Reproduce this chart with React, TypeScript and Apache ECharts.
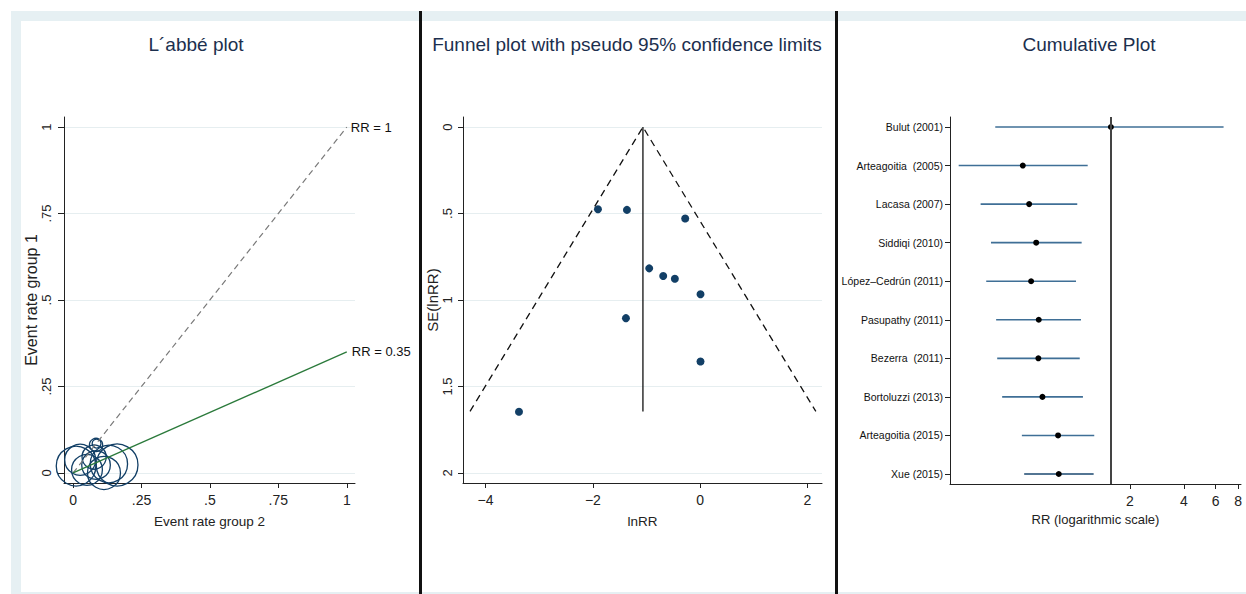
import React, { useEffect, useRef } from "react";
import * as echarts from "echarts";

// ---------- L'Abbé plot data ----------
const labbeRateGroup2 = [0.011, 0.026, 0.161, 0.131, 0.113, 0.084, 0.086, 0.077, 0.051, 0.084];
const labbeRateGroup1 = [0.02, 0.038, 0.023, 0.026, 0.0, 0.081, 0.085, 0.046, 0.009, 0.023];
const labbeWeights = [36, 22, 40, 32, 25, 4, 1.8, 13.4, 21.8, 18.8];
const labbeTicks = [0, 0.25, 0.5, 0.75, 1];
const rrReference = 1;
const rrPooled = 0.35;

// ---------- Funnel plot data ----------
const funnelLnRR = [-1.905, -1.365, -0.279, -0.95, -0.689, -0.472, 0.006, -1.384, 0.006, -3.377];
const funnelSE = [0.475, 0.479, 0.529, 0.817, 0.861, 0.877, 0.967, 1.105, 1.356, 1.646];
const funnelPooled = -1.067;
const funnelMaxSE = 1.644;
const funnelXTicks = [-4, -2, 0, 2];
const funnelYTicks = [0, 0.5, 1, 1.5, 2];

// ---------- Cumulative plot data ----------
const studies = [
  "Bulut (2001)",
  "Arteagoitia  (2005)",
  "Lacasa (2007)",
  "Siddiqi (2010)",
  "López–Cedrún (2011)",
  "Pasupathy (2011)",
  "Bezerra  (2011)",
  "Bortoluzzi (2013)",
  "Arteagoitia (2015)",
  "Xue (2015)",
];
const cumRR = [1.569, 0.508, 0.551, 0.603, 0.565, 0.623, 0.62, 0.653, 0.798, 0.805];
const cumLow = [0.357, 0.2235, 0.296, 0.338, 0.318, 0.361, 0.366, 0.39, 0.502, 0.517];
const cumHigh = [6.64, 1.166, 1.02, 1.079, 1.004, 1.07, 1.053, 1.097, 1.268, 1.258];
const cumRefLine = 1.569;
const cumXTicks = [2, 4, 6, 8];

const REG = "'Liberation Sans', Arial, sans-serif";
const TITLE_COLOR = "#1c2f4e";
const AXIS_COLOR = "#222222";
const GRID_COLOR = "#e6eef0";
const MARK_BLUE = "#123f66";

const fmtDec = (v: number) => {
  const s = String(v);
  return s.startsWith("0.") ? s.slice(1) : s;
};

function baseAxis(extra: any) {
  return {
    axisLine: { show: true, onZero: false, lineStyle: { color: AXIS_COLOR, width: 1 } },
    axisTick: { show: true, length: 5, lineStyle: { color: AXIS_COLOR } },
    splitLine: { show: false },
    ...extra,
  };
}

export default function App() {
  const ref = useRef<HTMLDivElement>(null);
  useEffect(() => {
    if (!ref.current) return;
    const chart = echarts.init(ref.current, undefined, { renderer: "svg" });

    const bubbleData = labbeRateGroup2.map((x, i) => [x, labbeRateGroup1[i], labbeWeights[i]]);
    const funnelData = funnelLnRR.map((x, i) => [x, funnelSE[i]]);
    const ciData = studies.map((_, i) => [cumLow[i], cumHigh[i], i]);
    const cumData = cumRR.map((v, i) => [v, i]);
    const z = 1.96;

    const option: any = {
      animation: false,
      backgroundColor: "#ffffff",
      textStyle: { fontFamily: REG },
      graphic: [
        { type: "rect", shape: { x: 11, y: 11, width: 1235, height: 10 }, style: { fill: "#e6f0f3" }, silent: true },
        { type: "rect", shape: { x: 11, y: 11, width: 10, height: 583 }, style: { fill: "#e6f0f3" }, silent: true },
        { type: "rect", shape: { x: 11, y: 592, width: 1235, height: 2 }, style: { fill: "#e6f0f3" }, silent: true },
        { type: "rect", shape: { x: 419, y: 11, width: 3, height: 583 }, style: { fill: "#111111" }, silent: true },
        { type: "rect", shape: { x: 835, y: 11, width: 3, height: 583 }, style: { fill: "#111111" }, silent: true },
        {
          type: "text", x: 196, y: 44,
          style: { text: "L´abbé plot", fill: TITLE_COLOR, font: `19px ${REG}`, align: "center", verticalAlign: "middle" },
        },
        {
          type: "text", x: 627, y: 44,
          style: { text: "Funnel plot with pseudo 95% confidence limits", fill: TITLE_COLOR, font: `19px ${REG}`, align: "center", verticalAlign: "middle" },
        },
        {
          type: "text", x: 1089, y: 44,
          style: { text: "Cumulative Plot", fill: TITLE_COLOR, font: `19px ${REG}`, align: "center", verticalAlign: "middle" },
        },
      ],
      grid: [
        { left: 64, top: 117, width: 291, height: 366 },
        { left: 463, top: 117, width: 359, height: 366 },
        { left: 950, top: 117, width: 291, height: 367 },
      ],
      xAxis: [
        baseAxis({
          type: "value", gridIndex: 0, min: -0.033, max: 1.03,
          name: "Event rate group 2", nameLocation: "middle", nameGap: 31,
          nameTextStyle: { fontFamily: REG, fontSize: 13.5, color: AXIS_COLOR },
          axisTick: { show: true, length: 5, lineStyle: { color: AXIS_COLOR }, customValues: labbeTicks },
          axisLabel: { customValues: labbeTicks, formatter: fmtDec, fontFamily: REG, fontSize: 14, color: AXIS_COLOR, margin: 10 },
        }),
        baseAxis({
          type: "value", gridIndex: 1, min: -4.42, max: 2.27,
          name: "lnRR", nameLocation: "middle", nameGap: 31,
          nameTextStyle: { fontFamily: REG, fontSize: 13.5, color: AXIS_COLOR },
          axisTick: { show: true, length: 5, lineStyle: { color: AXIS_COLOR }, customValues: funnelXTicks },
          axisLabel: { customValues: funnelXTicks, formatter: (v: number) => String(v).replace("-", "−"), fontFamily: REG, fontSize: 14, color: AXIS_COLOR, margin: 10 },
        }),
        baseAxis({
          type: "log", logBase: 2, gridIndex: 2, min: 0.2, max: 8.3,
          name: "RR (logarithmic scale)", nameLocation: "middle", nameGap: 29,
          nameTextStyle: { fontFamily: REG, fontSize: 13, color: AXIS_COLOR },
          axisTick: { show: true, length: 5, lineStyle: { color: AXIS_COLOR }, customValues: cumXTicks },
          axisLabel: { customValues: cumXTicks, formatter: (v: number) => String(Math.round(v)), fontFamily: REG, fontSize: 14, color: AXIS_COLOR, margin: 10 },
        }),
      ],
      yAxis: [
        baseAxis({
          type: "value", gridIndex: 0, min: -0.029, max: 1.029,
          name: "Event rate group 1", nameLocation: "middle", nameGap: 23,
          nameTextStyle: { fontFamily: REG, fontSize: 16, color: AXIS_COLOR },
          axisTick: { show: true, length: 6, lineStyle: { color: AXIS_COLOR }, customValues: labbeTicks },
          axisLabel: { customValues: labbeTicks, formatter: fmtDec, rotate: 90, fontFamily: REG, fontSize: 13, color: AXIS_COLOR, margin: 11 },
          splitLine: { show: true, lineStyle: { color: GRID_COLOR, width: 1 } },
        }),
        baseAxis({
          type: "value", gridIndex: 1, min: -0.058, max: 2.058, inverse: true,
          name: "SE(lnRR)", nameLocation: "middle", nameGap: 17,
          nameTextStyle: { fontFamily: REG, fontSize: 15, color: AXIS_COLOR },
          axisTick: { show: true, length: 5, lineStyle: { color: AXIS_COLOR }, customValues: funnelYTicks },
          axisLabel: { customValues: funnelYTicks, formatter: fmtDec, rotate: 90, fontFamily: REG, fontSize: 13, color: AXIS_COLOR, margin: 9 },
          splitLine: { show: true, lineStyle: { color: GRID_COLOR, width: 1 } },
        }),
        baseAxis({
          type: "value", gridIndex: 2, min: -0.26, max: 9.26, inverse: true,
          axisTick: { show: true, length: 5, lineStyle: { color: AXIS_COLOR }, customValues: studies.map((_, i) => i) },
          axisLabel: {
            customValues: studies.map((_, i) => i),
            formatter: (v: number) => studies[Math.round(v)] ?? "",
            fontFamily: REG, fontSize: 10.5, color: "#111111", margin: 7,
          },
        }),
      ],
      series: [
        {
          type: "line", xAxisIndex: 0, yAxisIndex: 0, symbol: "none",
          data: [[0, 0], [1, rrReference]],
          lineStyle: { color: "#7a7a7a", width: 1.2, type: [6, 4] },
          endLabel: { show: true, formatter: `RR = ${rrReference}`, fontFamily: REG, fontSize: 13, color: "#111", distance: 4 },
        },
        {
          type: "line", xAxisIndex: 0, yAxisIndex: 0, symbol: "none",
          data: [[0, 0], [1, rrPooled]],
          lineStyle: { color: "#2b7a3b", width: 1.3 },
          endLabel: { show: true, formatter: `RR = ${rrPooled}`, fontFamily: REG, fontSize: 13, color: "#111", distance: 5 },
        },
        {
          type: "scatter", xAxisIndex: 0, yAxisIndex: 0,
          data: bubbleData,
          symbolSize: (v: number[]) => 6.6 * Math.sqrt(v[2]),
          itemStyle: { color: "rgba(0,0,0,0)", borderColor: MARK_BLUE, borderWidth: 1.3, opacity: 1 },
        },
        {
          type: "line", xAxisIndex: 1, yAxisIndex: 1, symbol: "none",
          data: [
            [funnelPooled - z * funnelMaxSE, funnelMaxSE],
            [funnelPooled, 0],
            [funnelPooled + z * funnelMaxSE, funnelMaxSE],
          ],
          lineStyle: { color: "#111", width: 1.3, type: [7, 5] },
        },
        {
          type: "line", xAxisIndex: 1, yAxisIndex: 1, symbol: "none",
          data: [[funnelPooled, 0], [funnelPooled, funnelMaxSE]],
          lineStyle: { color: "#111", width: 1.3 },
        },
        {
          type: "scatter", xAxisIndex: 1, yAxisIndex: 1,
          data: funnelData, symbolSize: 8,
          itemStyle: { color: MARK_BLUE, opacity: 1 },
        },
        {
          type: "custom", xAxisIndex: 2, yAxisIndex: 2,
          data: ciData,
          encode: { x: [0, 1], y: 2 },
          renderItem: (params: any, api: any) => {
            const idx = api.value(2);
            const p1 = api.coord([api.value(0), idx]);
            const p2 = api.coord([api.value(1), idx]);
            return {
              type: "line",
              shape: { x1: p1[0], y1: p1[1], x2: p2[0], y2: p2[1] },
              style: { stroke: idx === studies.length - 1 ? "#1a476f" : "#3f6f96", lineWidth: 1.6 },
            };
          },
        },
        {
          type: "scatter", xAxisIndex: 2, yAxisIndex: 2,
          data: cumData, symbolSize: 6,
          itemStyle: { color: "#000", opacity: 1 },
          markLine: {
            silent: true, symbol: "none", label: { show: false },
            lineStyle: { color: "#444", width: 2, type: "solid" },
            data: [{ xAxis: cumRefLine }],
          },
        },
      ],
    };
    chart.setOption(option);
    return () => chart.dispose();
  }, []);
  return <div ref={ref} style={{ position: "fixed", left: 0, top: 0, width: 1246, height: 594 }} />;
}
